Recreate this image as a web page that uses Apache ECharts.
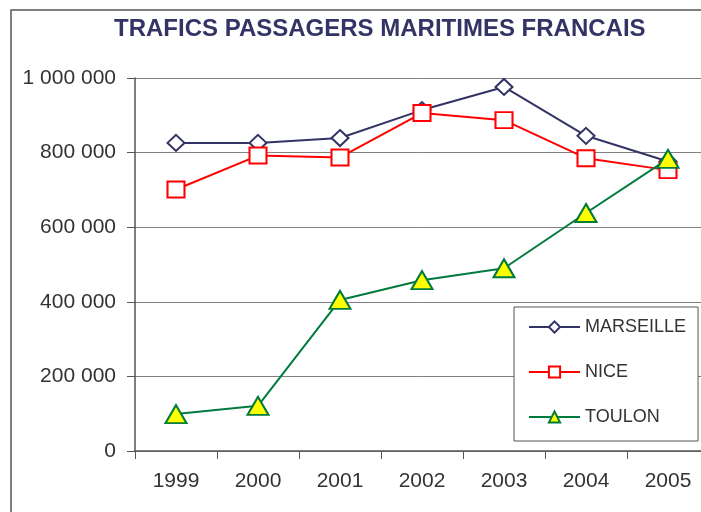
<!DOCTYPE html>
<html>
<head>
<meta charset="utf-8">
<script src="https://cdn.jsdelivr.net/npm/echarts@6/dist/echarts.min.js"></script>
<style>
  html, body { margin: 0; padding: 0; background: #fff; }
  #chart { width: 701px; height: 512px; }
</style>
</head>
<body>
<div id="chart"></div>
<script>
// years on the x axis
var years = ["1999", "2000", "2001", "2002", "2003", "2004", "2005"];
// passengers per port
var marseille = [826000, 826000, 839000, 914000, 976000, 845000, 776000];
var nice = [701000, 792000, 787000, 906000, 887000, 785000, 753000];
var toulon = [99000, 121000, 405000, 458000, 490000, 638000, 783000];
// y tick labels (0 .. 1 000 000, step 200 000)
var yTickLabels = ["0", "200 000", "400 000", "600 000", "800 000", "1 000 000"];

var chart = echarts.init(document.getElementById("chart"));

var labelFont = { fontFamily: "Liberation Sans, Arial, sans-serif", fontSize: 21, color: "#333333" };

var option = {
  backgroundColor: "#ffffff",
  animation: false,
  title: {
    text: "TRAFICS PASSAGERS MARITIMES FRANCAIS",
    left: 109,
    top: 12,
    textStyle: {
      fontFamily: "Liberation Sans, Arial, sans-serif",
      fontSize: 24,
      fontWeight: "bold",
      color: "#333366"
    }
  },
  graphic: [
    {
      // outer frame of the chart (only left/top visible)
      type: "rect",
      shape: { x: 11, y: 10, width: 800, height: 600 },
      style: { fill: "none", stroke: "#555555", lineWidth: 1.5 },
      silent: true
    }
  ],
  legend: {
    orient: "vertical",
    left: 514,
    top: 307,
    padding: [11, 12, 15, 14],
    itemWidth: 51,
    itemHeight: 14,
    itemGap: 27,
    backgroundColor: "#ffffff",
    borderColor: "#555555",
    borderWidth: 1,
    textStyle: {
      fontFamily: "Liberation Sans, Arial, sans-serif",
      fontSize: 18,
      color: "#333333"
    },
    data: ["MARSEILLE", "NICE", "TOULON"]
  },
  grid: {
    left: 135,
    right: -8,
    top: 78,
    bottom: 61,
    containLabel: false,
    outerBoundsMode: "none"
  },
  xAxis: {
    type: "category",
    data: years,
    boundaryGap: true,
    axisLine: { show: true, lineStyle: { color: "#555555", width: 1.5 } },
    axisTick: { show: true, inside: false, length: 8, interval: 0, lineStyle: { color: "#555555" } },
    axisLabel: Object.assign({ margin: 20, interval: 0 }, labelFont),
    splitLine: { show: false }
  },
  yAxis: {
    type: "value",
    min: 0,
    max: 1000000,
    interval: 200000,
    axisLine: { show: true, lineStyle: { color: "#555555", width: 1.5 } },
    axisTick: { show: true, inside: false, length: 8, lineStyle: { color: "#555555" } },
    axisLabel: Object.assign({
      margin: 19,
      formatter: function (v) { return yTickLabels[Math.round(v / 200000)]; }
    }, labelFont),
    splitLine: { show: true, lineStyle: { color: "#808080", width: 1 } }
  },
  series: [
    {
      name: "MARSEILLE",
      type: "line",
      data: marseille,
      symbol: "diamond",
      symbolSize: [17, 16],
      showAllSymbol: true,
      lineStyle: { color: "#333366", width: 2 },
      itemStyle: { color: "#ffffff", borderColor: "#333366", borderWidth: 2 }
    },
    {
      name: "NICE",
      type: "line",
      data: nice,
      symbol: "rect",
      symbolSize: [17, 16],
      showAllSymbol: true,
      lineStyle: { color: "#ff0000", width: 2 },
      itemStyle: { color: "#ffffff", borderColor: "#ff0000", borderWidth: 2 }
    },
    {
      name: "TOULON",
      type: "line",
      data: toulon,
      symbol: "triangle",
      symbolSize: [21, 18],
      showAllSymbol: true,
      lineStyle: { color: "#007a3d", width: 2 },
      itemStyle: { color: "#ffff00", borderColor: "#007a3d", borderWidth: 2 }
    }
  ]
};

chart.setOption(option);
</script>
</body>
</html>
